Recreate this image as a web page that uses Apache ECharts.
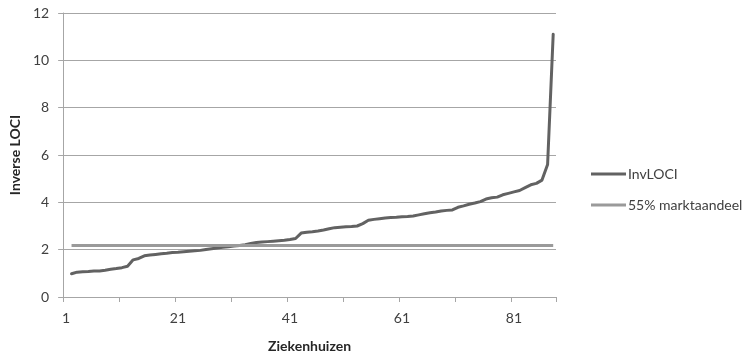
<!DOCTYPE html>
<html>
<head>
<meta charset="utf-8">
<script src="https://cdn.jsdelivr.net/npm/echarts@6/dist/echarts.min.js"></script>
<style>html,body{margin:0;padding:0;background:#fff}#c{width:752px;height:358px}</style>
</head>
<body>
<div id="c"></div>
<script>
const categories = ['1','2','3','4','5','6','7','8','9','10','11','12','13','14','15','16','17','18','19','20','21','22','23','24','25','26','27','28','29','30','31','32','33','34','35','36','37','38','39','40','41','42','43','44','45','46','47','48','49','50','51','52','53','54','55','56','57','58','59','60','61','62','63','64','65','66','67','68','69','70','71','72','73','74','75','76','77','78','79','80','81','82','83','84','85','86','87','88'];
const invLOCI = [null,
  0.98,1.05,1.07,1.08,1.10,1.10,1.13,1.17,1.20,1.24,1.30,1.57,1.63,1.74,1.77,1.80,1.83,1.85,1.88,
  1.89,1.91,1.93,1.95,1.97,2.01,2.04,2.07,2.10,2.12,2.15,2.18,2.21,2.26,2.30,2.32,2.34,2.36,2.38,2.40,
  2.43,2.47,2.70,2.74,2.76,2.79,2.83,2.88,2.93,2.95,2.97,2.98,3.00,3.10,3.24,3.28,3.31,3.34,3.36,3.37,
  3.39,3.40,3.42,3.47,3.52,3.56,3.59,3.63,3.66,3.68,3.79,3.85,3.92,3.97,4.03,4.14,4.19,4.22,4.32,4.38,
  4.44,4.50,4.62,4.74,4.80,4.94,5.60,11.1];
const markt55 = [null,
  2.18,2.18,2.18,2.18,2.18,2.18,2.18,2.18,2.18,2.18,2.18,2.18,2.18,2.18,2.18,2.18,2.18,2.18,2.18,
  2.18,2.18,2.18,2.18,2.18,2.18,2.18,2.18,2.18,2.18,2.18,2.18,2.18,2.18,2.18,2.18,2.18,2.18,2.18,2.18,
  2.18,2.18,2.18,2.18,2.18,2.18,2.18,2.18,2.18,2.18,2.18,2.18,2.18,2.18,2.18,2.18,2.18,2.18,2.18,2.18,
  2.18,2.18,2.18,2.18,2.18,2.18,2.18,2.18,2.18,2.18,2.18,2.18,2.18,2.18,2.18,2.18,2.18,2.18,2.18,2.18,
  2.18,2.18,2.18,2.18,2.18,2.18,2.18,2.18];
const seriesNames = ['InvLOCI', '55% marktaandeel'];

const FONT = 'Lato';
const chart = echarts.init(document.getElementById('c'));
chart.setOption({
  animation: false,
  backgroundColor: '#fff',
  grid: { left: 60, right: 196, top: 13, bottom: 60, containLabel: false },
  legend: {
    orient: 'vertical', left: 586, top: 162, icon: 'rect', itemWidth: 35, itemHeight: 3, itemGap: 17,
    textStyle: { fontFamily: FONT, fontSize: 14, color: '#404040', padding: [0, 0, 0, -3] },
    data: seriesNames
  },
  xAxis: {
    type: 'category', data: categories, boundaryGap: true,
    name: 'Ziekenhuizen', nameLocation: 'middle', nameGap: 42,
    nameTextStyle: { fontFamily: FONT, fontSize: 14, fontWeight: 'bold', color: '#262626' },
    axisLine: { lineStyle: { color: '#a6a6a6', width: 1 } },
    axisTick: { show: true, interval: 9, length: 5, lineStyle: { color: '#a6a6a6' } },
    axisLabel: { interval: 19, margin: 14, fontFamily: FONT, fontSize: 14, color: '#404040' },
    splitLine: { show: false }
  },
  yAxis: {
    type: 'value', min: 0, max: 12, interval: 2,
    name: 'Inverse LOCI', nameLocation: 'middle', nameGap: 40, nameRotate: 90,
    nameTextStyle: { fontFamily: FONT, fontSize: 14, fontWeight: 'bold', color: '#262626' },
    axisLine: { show: true, lineStyle: { color: '#a6a6a6', width: 1 } },
    axisTick: { show: true, length: 5, lineStyle: { color: '#a6a6a6' } },
    axisLabel: { margin: 14, fontFamily: FONT, fontSize: 14, color: '#404040' },
    splitLine: { show: true, lineStyle: { color: '#a6a6a6', width: 1 } }
  },
  series: [
    { name: seriesNames[0], type: 'line', data: invLOCI, symbol: 'none', showSymbol: false,
      lineStyle: { color: '#626262', width: 3, cap: 'round', join: 'round' }, itemStyle: { color: '#626262' } },
    { name: seriesNames[1], type: 'line', data: markt55, symbol: 'none', showSymbol: false,
      lineStyle: { color: '#9a9a9a', width: 3 }, itemStyle: { color: '#9a9a9a' } }
  ]
});
</script>
</body>
</html>
